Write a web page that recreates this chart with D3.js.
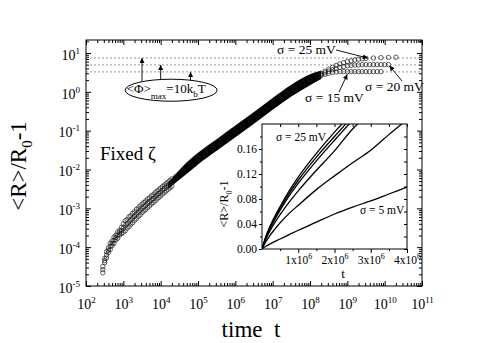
<!DOCTYPE html>
<html lang="en">
<head>
<meta charset="utf-8">
<title>Fixed zeta growth</title>
<script src="https://d3js.org/d3.v7.min.js"></script>
<style>
 body { margin: 0; background: #fff; }
</style>
</head>
<body>
<script>
// main panel: log10(t) shared by the three runs
const logT = [
  2.45, 2.50, 2.55, 2.60, 2.65, 2.70, 2.75, 2.80, 2.85, 2.90,
  2.95, 3.00, 3.05, 3.10, 3.15, 3.20, 3.25, 3.30, 3.35, 3.40,
  3.45, 3.50, 3.55, 3.60, 3.65, 3.70, 3.75, 3.80, 3.85, 3.90,
  3.95, 4.00, 4.05, 4.10, 4.15, 4.20, 4.25, 4.30,
  4.4, 4.6, 4.8, 5.0, 5.2, 5.4, 5.6, 5.8, 6.0, 6.2,
  6.4, 6.6, 6.8, 7.0, 7.2, 7.4, 7.6, 7.8, 8.0, 8.2,
  8.3, 8.4, 8.5, 8.6, 8.7, 8.8, 8.9, 9.0, 9.1, 9.2,
  9.3, 9.4, 9.5, 9.6, 9.7, 9.8, 9.9, 10.0, 10.1, 10.2, 10.3
];

// log10(<R>/R0 - 1) for sigma = 25, 20, 15 mV
const s25 = [
  -4.50, -4.29, -4.12, -4.02, -3.90, -3.84, -3.74, -3.69, -3.61, -3.57,
  -3.49, -3.40, -3.32, -3.29, -3.22, -3.19, -3.13, -3.09, -3.03, -2.99,
  -2.94, -2.89, -2.85, -2.81, -2.76, -2.73, -2.68, -2.65, -2.60, -2.56,
  -2.52, -2.48, -2.44, -2.40, -2.36, -2.32, -2.28, -2.24,
  -2.19, -2.02, -1.85, -1.69, -1.55, -1.41, -1.27, -1.13, -0.99, -0.85,
  -0.71, -0.57, -0.43, -0.28, -0.14, -0.01, 0.12, 0.24, 0.34, 0.43,
  0.47, 0.53, 0.58, 0.63, 0.68, 0.72, 0.75, 0.78, 0.80, 0.82,
  0.84, 0.85, 0.86, null, 0.87, null, 0.88, null, 0.885, null, 0.89
];
const s20 = [
  -4.58, -4.35, -4.20, -4.08, -3.98, -3.90, -3.82, -3.75, -3.69, -3.63,
  -3.57, -3.51, -3.45, -3.40, -3.35, -3.30, -3.25, -3.20, -3.15, -3.10,
  -3.05, -3.00, -2.96, -2.92, -2.87, -2.83, -2.79, -2.75, -2.70, -2.66,
  -2.62, -2.58, -2.53, -2.49, -2.45, -2.41, -2.37, -2.33,
  -2.22, -2.05, -1.88, -1.72, -1.58, -1.44, -1.30, -1.16, -1.02, -0.88,
  -0.74, -0.60, -0.46, -0.31, -0.17, -0.04, 0.09, 0.21, 0.31, 0.40,
  0.44, 0.49, 0.53, 0.57, 0.60, 0.63, 0.65, 0.67, 0.68, 0.69,
  0.69, 0.70, 0.70, 0.70, 0.70, 0.70, 0.70, 0.70, 0.70, null, null
];
const s15 = [
  -4.66, -4.40, -4.28, -4.14, -4.06, -3.96, -3.90, -3.81, -3.77, -3.69,
  -3.65, -3.62, -3.58, -3.51, -3.47, -3.41, -3.37, -3.31, -3.27, -3.21,
  -3.17, -3.11, -3.07, -3.03, -2.98, -2.94, -2.89, -2.85, -2.81, -2.76,
  -2.72, -2.68, -2.63, -2.59, -2.55, -2.51, -2.47, -2.43,
  -2.25, -2.08, -1.91, -1.75, -1.61, -1.47, -1.33, -1.19, -1.05, -0.91,
  -0.77, -0.63, -0.49, -0.34, -0.20, -0.07, 0.06, 0.18, 0.28, 0.37,
  0.42, 0.45, 0.48, 0.50, 0.51, 0.52, 0.52, 0.52, 0.52, 0.52,
  0.52, 0.52, 0.52, 0.52, 0.52, 0.52, 0.52, null, null, null, null
];

// dense overlapping part of the cloud (log10 values)
const bandT  = [4.2, 4.6, 5.0, 5.5, 6.0, 6.5, 7.0, 7.5, 8.0, 8.3];
const bandLo = [-2.50, -2.19, -1.87, -1.52, -1.17, -0.82, -0.46, -0.12, 0.17, 0.33];
const bandHi = [-2.34, -1.91, -1.57, -1.22, -0.87, -0.52, -0.16, 0.18, 0.45, 0.55];

// plateaus for <Phi>max = 10 kbT and where the arrows sit (log10 t)
const plateau = [7.45, 4.92, 3.26];
const arrowT = [3.5, 4.0, 4.8];

const xExp = [2, 3, 4, 5, 6, 7, 8, 9, 10, 11];
const yExp = [-5, -4, -3, -2, -1, 0, 1];

// inset: linear time
const insetT = [0, 0.1e6, 0.25e6, 0.5e6, 0.75e6, 1e6, 1.5e6, 2e6, 2.5e6, 3e6, 3.5e6, 4e6];
const insetCurves = [
  [0, 0.019, 0.040, 0.068, 0.093, 0.115, 0.153, 0.187, 0.218],
  [0, 0.018, 0.038, 0.065, 0.089, 0.110, 0.147, 0.180, 0.212],
  [0, 0.017, 0.036, 0.062, 0.085, 0.105, 0.141, 0.174, 0.206],
  [0, 0.015, 0.032, 0.055, 0.075, 0.093, 0.126, 0.157, 0.192, 0.218],
  [0, 0.011, 0.024, 0.042, 0.057, 0.070, 0.095, 0.117, 0.138, 0.158, 0.183, 0.207],
  [0, 0.004, 0.009, 0.016, 0.023, 0.030, 0.043, 0.056, 0.067, 0.077, 0.088, 0.099]
];
const insetXTicks = [1e6, 2e6, 3e6, 4e6];
const insetYTicks = [0, 0.04, 0.08, 0.12, 0.16];

const FONT = '"Liberation Serif", "Times New Roman", serif';
const W = 490, H = 343;
const svg = d3.select('body').append('svg').attr('width', W).attr('height', H)
              .attr('font-family', FONT);

const defs = svg.append('defs');
defs.append('marker').attr('id', 'head')
    .attr('viewBox', '0 0 10 10').attr('refX', 10).attr('refY', 5)
    .attr('markerWidth', 6).attr('markerHeight', 5).attr('orient', 'auto')
    .attr('markerUnits', 'userSpaceOnUse')
    .append('path').attr('d', 'M0,0L10,5L0,10z').attr('fill', '#000');

//Main scales
const x = d3.scaleLog().domain([1e2, 1e11]).range([86, 422]);
const y = d3.scaleLog().domain([1e-5, 21.6]).range([286, 40]);
const [x0, x1] = x.range();
const [y0, y1] = y.range();

const minors = (exps, dom) => {
  const out = [];
  exps.forEach(e => { for (let k = 2; k <= 9; k++) { const v = k * Math.pow(10, e); if (v >= dom[0] && v <= dom[1]) out.push(v); } });
  return out;
};
const xMaj = xExp.map(e => Math.pow(10, e));
const yMaj = yExp.map(e => Math.pow(10, e));
const xMin = minors(xExp, x.domain());
const yMin = minors(yExp, y.domain());

function sup(sel, exps, supDy) {
  sel.selectAll('text').each(function (d, i) {
    const t = d3.select(this).text(null);
    t.append('tspan').text('10');
    t.append('tspan').attr('dy', supDy).attr('font-size', 9).text(exps[i]);
  });
}

// bottom
svg.append('g').attr('transform', `translate(0,${y0})`)
   .call(d3.axisBottom(x).tickValues(xMin).tickSize(-3).tickFormat(''));
const gxbM = svg.append('g').attr('transform', `translate(0,${y0})`);
gxbM.call(d3.axisBottom(x).tickValues(xMaj).tickSize(-5).tickPadding(0).tickFormat(() => ''));
gxbM.selectAll('text').attr('y', 23).attr('dy', null).attr('font-size', 14);
sup(gxbM, xExp, -6);
// top
svg.append('g').attr('transform', `translate(0,${y1})`).call(d3.axisTop(x).tickValues(xMin).tickSize(-3).tickFormat(''));
svg.append('g').attr('transform', `translate(0,${y1})`).call(d3.axisTop(x).tickValues(xMaj).tickSize(-5).tickFormat(''));
// left
svg.append('g').attr('transform', `translate(${x0},0)`).call(d3.axisLeft(y).tickValues(yMin).tickSize(-3).tickFormat(''));
const gyl = svg.append('g').attr('transform', `translate(${x0},0)`);
gyl.call(d3.axisLeft(y).tickValues(yMaj).tickSize(-5).tickPadding(0).tickFormat(() => ''));
gyl.selectAll('text').attr('x', -6).attr('dy', '0.45em').attr('font-size', 14);
sup(gyl, yExp, -6);
// right
svg.append('g').attr('transform', `translate(${x1},0)`).call(d3.axisRight(y).tickValues(yMin).tickSize(-3).tickFormat(''));
svg.append('g').attr('transform', `translate(${x1},0)`).call(d3.axisRight(y).tickValues(yMaj).tickSize(-5).tickFormat(''));

svg.selectAll('.domain').remove();
svg.selectAll('.tick line').attr('stroke', '#000');
svg.append('rect').attr('x', x0).attr('y', y1).attr('width', x1 - x0).attr('height', y0 - y1)
   .attr('fill', 'none').attr('stroke', '#000').attr('stroke-width', 1);

//Plateau lines
svg.selectAll('.plat').data(plateau).enter().append('line')
   .attr('x1', x0).attr('x2', x1)
   .attr('y1', d => y(d)).attr('y2', d => y(d))
   .attr('stroke', '#666').attr('stroke-width', 0.7).attr('stroke-dasharray', '2,2');

//Dense band
const band = bandT.map((t, i) => ({t: Math.pow(10, t), lo: Math.pow(10, bandLo[i]), hi: Math.pow(10, bandHi[i])}));
svg.append('path').datum(band)
   .attr('d', d3.area().x(d => x(d.t)).y0(d => y(d.lo)).y1(d => y(d.hi)).curve(d3.curveMonotoneX))
   .attr('fill', '#000');

//Scatter of the three runs
[s25, s20, s15].forEach(s => {
  const pts = logT.map((t, i) => ({t: Math.pow(10, t), v: s[i]})).filter(d => d.v !== null)
                  .map(d => ({t: d.t, v: Math.pow(10, d.v)}));
  svg.append('g').selectAll('circle').data(pts).enter().append('circle')
     .attr('cx', d => x(d.t)).attr('cy', d => y(d.v)).attr('r', 2.2)
     .attr('fill', 'none').attr('stroke', '#111').attr('stroke-width', 0.65);
});

//Ellipse annotation
const ex = x(Math.pow(10, 4.28)), ey = y(1.1);
svg.append('ellipse').attr('cx', ex).attr('cy', ey).attr('rx', 46).attr('ry', 11)
   .attr('fill', 'none').attr('stroke', '#000').attr('stroke-width', 1);
arrowT.forEach((t, i) => {
  const ax = x(Math.pow(10, t));
  const dx = (ax - ex) / 46;
  const yEdge = ey - 11 * Math.sqrt(Math.max(0, 1 - dx * dx));
  svg.append('line').attr('x1', ax).attr('x2', ax).attr('y1', yEdge).attr('y2', y(plateau[i]))
     .attr('stroke', '#000').attr('stroke-width', 0.9).attr('marker-end', 'url(#head)');
});
const et = svg.append('text').attr('x', ex - 5).attr('y', ey + 3).attr('text-anchor', 'middle').attr('font-size', 13);
et.append('tspan').text('<Φ>');
et.append('tspan').attr('dy', 6).attr('font-size', 9).text('max');
et.append('tspan').attr('dy', -6).text('=10k');
et.append('tspan').attr('dy', 4).attr('font-size', 9).text('b');
et.append('tspan').attr('dy', -4).text('T');

svg.append('text').attr('x', 100).attr('y', 160).attr('font-size', 19).text('Fixed ζ');

//Run labels with arrows
const runLabels = [
  {txt: 'σ = 25 mV', lx: 277, ly: 54, ax: 336, ay: 50, t: 9.55, v: 0.87},
  {txt: 'σ = 20 mV', lx: 365, ly: 91, ax: 402, ay: 81, t: 10.13, v: 0.67},
  {txt: 'σ = 15 mV', lx: 305, ly: 102, ax: 339, ay: 92, t: 9.0, v: 0.45}
];
runLabels.forEach(d => {
  svg.append('text').attr('x', d.lx).attr('y', d.ly).attr('font-size', 13.5).text(d.txt);
  svg.append('line').attr('x1', d.ax).attr('y1', d.ay)
     .attr('x2', x(Math.pow(10, d.t))).attr('y2', y(Math.pow(10, d.v)))
     .attr('stroke', '#000').attr('stroke-width', 0.9).attr('marker-end', 'url(#head)');
});

//Axis titles
svg.append('text').attr('x', 251).attr('y', 337).attr('text-anchor', 'middle')
   .attr('font-size', 23).text('time\u00a0\u00a0t');
const yt = svg.append('text').attr('transform', 'translate(26,166) rotate(-90)')
   .attr('text-anchor', 'middle').attr('font-size', 23);
yt.append('tspan').text('<R>/R');
yt.append('tspan').attr('dy', 6).attr('font-size', 15).text('0');
yt.append('tspan').attr('dy', -6).text('-1');

//Inset
const ix = d3.scaleLinear().domain([0, 4e6]).range([262, 407]);
const iy = d3.scaleLinear().domain([0, 0.2]).range([249, 124]);
const inset = svg.append('g');
inset.append('rect').attr('x', 262).attr('y', 124).attr('width', 145).attr('height', 125).attr('fill', '#fff');
inset.append('clipPath').attr('id', 'iclip').append('rect')
     .attr('x', 262).attr('y', 124).attr('width', 145).attr('height', 125);

const ixMin = d3.range(0.5e6, 4e6, 1e6);
const iyMin = d3.range(0.02, 0.2, 0.04);
const gix = inset.append('g').attr('transform', 'translate(0,249)');
gix.call(d3.axisBottom(ix).tickValues(insetXTicks).tickSize(4).tickPadding(0).tickFormat(() => ''));
gix.selectAll('text').attr('y', 15).attr('dy', null).attr('font-size', 11.5)
   .each(function (d) {
     const t = d3.select(this).text(null);
     t.append('tspan').text(d / 1e6 + 'x10');
     t.append('tspan').attr('dy', -5).attr('font-size', 8).text('6');
   });
inset.append('g').attr('transform', 'translate(0,249)').call(d3.axisBottom(ix).tickValues(ixMin).tickSize(2).tickFormat(''));
inset.append('g').attr('transform', 'translate(0,124)').call(d3.axisTop(ix).tickValues(insetXTicks.concat(ixMin)).tickSize(-3).tickFormat(''));
const giy = inset.append('g').attr('transform', 'translate(262,0)');
giy.call(d3.axisLeft(iy).tickValues(insetYTicks).tickSize(3).tickPadding(2).tickFormat(d3.format('.2f')));
giy.selectAll('text').attr('font-size', 11.5);
inset.append('g').attr('transform', 'translate(262,0)').call(d3.axisLeft(iy).tickValues(iyMin).tickSize(2).tickFormat(''));
inset.append('g').attr('transform', 'translate(407,0)').call(d3.axisRight(iy).tickValues(insetYTicks.concat(iyMin)).tickSize(-3).tickFormat(''));
inset.selectAll('.domain').remove();
inset.selectAll('.tick line').attr('stroke', '#000');

const iline = d3.line().x((d, i) => ix(insetT[i])).y(d => iy(d)).curve(d3.curveMonotoneX);
inset.append('g').attr('clip-path', 'url(#iclip)')
     .selectAll('path').data(insetCurves).enter().append('path')
     .attr('d', iline).attr('fill', 'none').attr('stroke', '#000').attr('stroke-width', 1.3);
inset.append('rect').attr('x', 262).attr('y', 124).attr('width', 145).attr('height', 125)
     .attr('fill', 'none').attr('stroke', '#000').attr('stroke-width', 1);

inset.append('text').attr('x', 276).attr('y', 141).attr('font-size', 11.5).text('σ = 25 mV');
inset.append('text').attr('x', 360).attr('y', 214).attr('font-size', 11.5).text('σ = 5 mV');
inset.append('text').attr('x', 343).attr('y', 278).attr('text-anchor', 'middle').attr('font-size', 13).text('t');
const iyt = inset.append('text').attr('transform', 'translate(228,204) rotate(-90)')
   .attr('text-anchor', 'middle').attr('font-size', 12);
iyt.append('tspan').text('<R>/R');
iyt.append('tspan').attr('dy', 4).attr('font-size', 8).text('0');
iyt.append('tspan').attr('dy', -4).text('-1');

// d3 axes put their own sans-serif on the groups; use the serif face everywhere
svg.selectAll('g[font-family]').attr('font-family', null);
svg.selectAll('g[font-size]').attr('font-size', null);
</script>
</body>
</html>
